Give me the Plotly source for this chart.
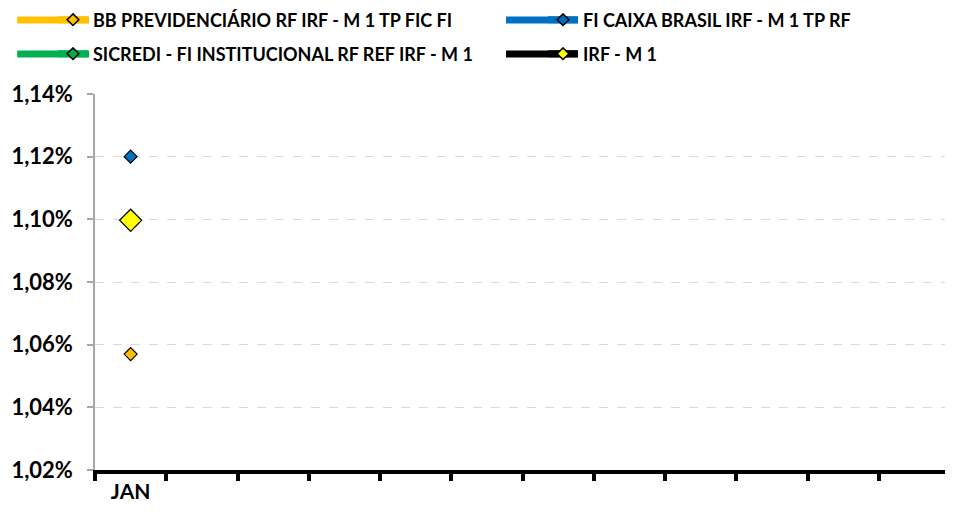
import plotly.graph_objects as go

months = ["JAN", "FEV", "MAR", "ABR", "MAI", "JUN", "JUL", "AGO", "SET", "OUT", "NOV", "DEZ"]
month_labels = ["JAN", " ", "  ", "   ", "    ", "     ", "      ", "       ", "        ", "         ", "          ", "           "]

bb_prev = [0.01057]
caixa = [0.01120]
sicredi = [0.010997]
irf_m1 = [0.010997]

y_ticks = [0.0102, 0.0104, 0.0106, 0.0108, 0.0110, 0.0112, 0.0114]

series = [
    ("BB PREVIDENCIÁRIO RF IRF - M 1 TP FIC FI", bb_prev, "#FFC000", "#FFC000", 10, "legend"),
    ("FI CAIXA BRASIL IRF - M 1 TP RF", caixa, "#0070C0", "#0070C0", 10, "legend2"),
    ("SICREDI - FI INSTITUCIONAL RF REF IRF - M 1", sicredi, "#00B050", "#00B050", 10, "legend3"),
    ("IRF - M 1", irf_m1, "#000000", "#FFFF00", 17, "legend4"),
]

W, H = 945, 508
ML, MR, MT, MB = 85, 3, 86, 46
PW, PH = W - ML - MR, H - MT - MB

# legend slot positions (figure pixels): (legend x, row centre y)
slots = {"legend": (45, 12), "legend2": (535, 12), "legend3": (45, 46), "legend4": (535, 46)}

fig = go.Figure()
shapes = []
for name, vals, lcol, mcol, msize, leg in series:
    fig.add_trace(go.Scatter(
        x=months[:len(vals)], y=vals, name=name, mode="lines+markers",
        line=dict(color=lcol, width=6),
        marker=dict(symbol="diamond", size=msize, color=mcol, line=dict(color="black", width=1.2)),
        legendgroup=name, showlegend=False,
    ))
    fig.add_trace(go.Scatter(
        x=[None], y=[None], name=name, mode="lines+markers",
        line=dict(color=lcol, width=7),
        marker=dict(symbol="diamond", size=9, color=mcol, line=dict(color="black", width=1.5)),
        legendgroup=name, showlegend=True, legend=leg,
    ))
    # lengthen / thicken the legend swatch line, as in the reference
    lx, ly = slots[leg]
    x0 = (lx - 38 - ML) / PW
    x1 = (lx + 34 - ML) / PW
    yp = 1 + (MT - ly) / PH
    shapes.append(dict(type="line", xref="paper", yref="paper", x0=x0, x1=x1, y0=yp, y1=yp,
                       line=dict(color=lcol, width=7), layer="above"))

font_family = "Lato, 'Open Sans', sans-serif"
leg_common = dict(
    orientation="h", xanchor="left", yanchor="middle",
    xref="container", yref="container",
    itemsizing="trace", bgcolor="rgba(0,0,0,0)",
    font=dict(size=18, family=font_family, weight="bold", color="black"),
)
legends = {k: dict(x=v[0] / W, y=1 - v[1] / H, **leg_common) for k, v in slots.items()}

fig.update_layout(
    width=W, height=H,
    margin=dict(l=ML, r=MR, t=MT, b=MB),
    plot_bgcolor="white", paper_bgcolor="white",
    font=dict(family=font_family, color="black"),
    showlegend=True,
    shapes=shapes,
    xaxis=dict(
        type="category", categoryorder="array", categoryarray=months,
        tickvals=months, ticktext=month_labels,
        range=[-0.5, 11.5], tickson="boundaries",
        showline=True, linecolor="black", linewidth=4,
        ticks="outside", ticklen=7, tickwidth=4, tickcolor="black",
        showgrid=False, zeroline=False,
        tickfont=dict(size=21, family=font_family, weight="bold", color="black"),
    ),
    yaxis=dict(
        range=[0.0102, 0.0114], tickvals=y_ticks, tickformat=".2%",
        showline=True, linecolor="#A6A6A6", linewidth=1.5,
        ticks="outside", ticklen=6, tickcolor="#A6A6A6", tickwidth=1.5,
        ticklabelstandoff=10,
        showgrid=True, gridcolor="#D9D9D9", griddash="dash", gridwidth=1.2,
        zeroline=False,
        tickfont=dict(size=22, family=font_family, weight="bold", color="black"),
    ),
    separators=",.",
    **legends,
)

fig.write_html("out.html")
